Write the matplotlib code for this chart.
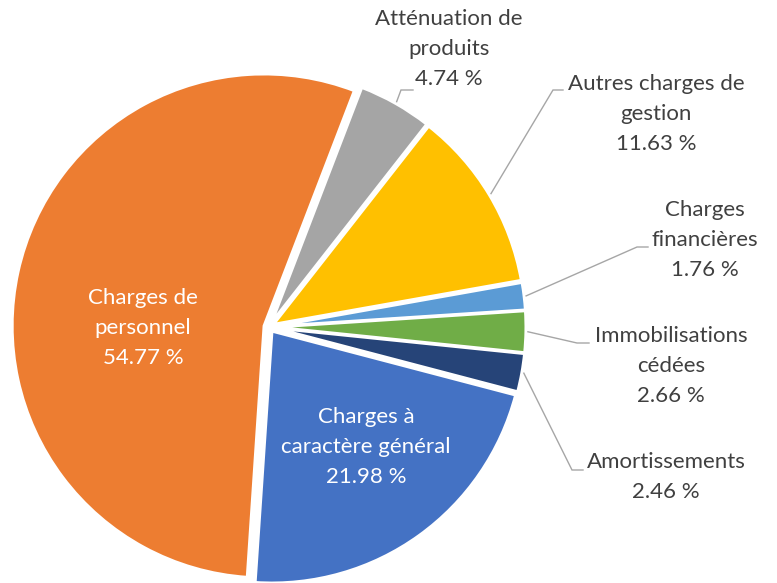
import numpy as np
import matplotlib
matplotlib.use("Agg")
import matplotlib.pyplot as plt

# ---- data (clockwise order starting near 12 o'clock) ----
categories = ["Atténuation de\nproduits", "Autres charges de\ngestion", "Charges\nfinancières",
              "Immobilisations\ncédées", "Amortissements", "Charges à\ncaractère général",
              "Charges de\npersonnel"]
values = [4.74, 11.63, 1.76, 2.66, 2.46, 21.98, 54.77]
colors = ["#A5A5A5", "#FFC000", "#5B9BD5", "#70AD47", "#264478", "#4472C4", "#ED7D31"]

# ---- layout (pixel space, y measured from top) ----
W, H = 777, 583
CX, CY, R = 269, 327, 252
EXPLODE_PX = 5
START_CLOCKWISE = 21.0  # degrees clockwise from 12 o'clock

# label centres and leader elbows (None -> inside label)
label_pos = [(449, 49), (656, 114), (705, 240), (671, 366), (666, 477), (366, 447), (143, 328)]
inside = [False, False, False, False, False, True, True]
elbows = [((401, 90), (413, 90)), ((553, 90), (563, 90)), ((637, 247), (648, 247)),
          ((577, 343), (589, 343)), ((572, 470), (583, 470)), None, None]

plt.rcParams['font.family'] = ['Lato', 'DejaVu Sans']

fig = plt.figure(figsize=(W / 100, H / 100), dpi=100)
ax = fig.add_axes([0, 0, 1, 1])

wedges, _ = ax.pie(values, colors=colors, startangle=90 - START_CLOCKWISE, counterclock=False,
                   radius=R, center=(CX, H - CY), explode=[EXPLODE_PX] * len(values),
                   wedgeprops=dict(edgecolor="white", linewidth=2.2))

ax.set_xlim(0, W)
ax.set_ylim(0, H)
ax.set_aspect("equal")
ax.axis("off")

for w, name, val, pos, ins, elb in zip(wedges, categories, values, label_pos, inside, elbows):
    txt = f"{name}\n{val:.2f} %"
    color = "white" if ins else "#404040"
    ax.text(pos[0], H - pos[1], txt, ha="center", va="center", multialignment="center",
            fontsize=16, color=color, linespacing=1.63)
    if elb is not None:
        mid = np.deg2rad((w.theta1 + w.theta2) / 2)
        cx, cy = w.center
        sx = cx + (R + 2) * np.cos(mid)
        sy = cy + (R + 2) * np.sin(mid)
        (ex, ey), (hx, hy) = elb
        ax.plot([sx, ex, hx], [sy, H - ey, H - hy], color="#A6A6A6", lw=1.0,
                solid_joinstyle="miter")

fig.savefig("out.png", dpi=100)
